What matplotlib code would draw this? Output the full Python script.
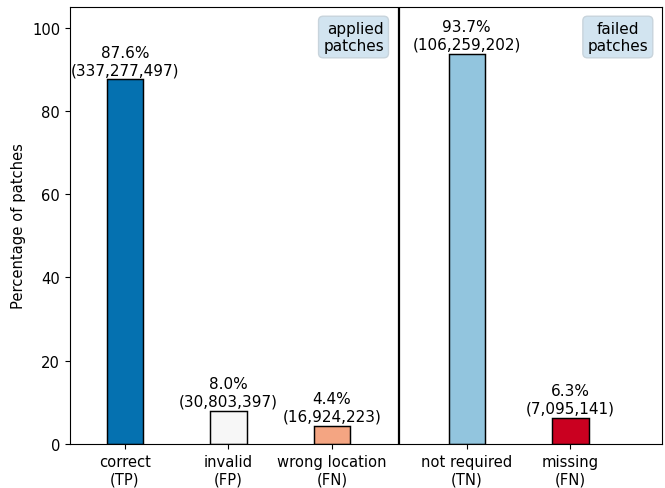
import matplotlib.pyplot as plt

categories = ['correct\n(TP)', 'invalid\n(FP)', 'wrong location\n(FN)',
              'not required\n(TN)', 'missing\n(FN)']
percentages = [87.6, 8.0, 4.4, 93.7, 6.3]
counts = [337277497, 30803397, 16924223, 106259202, 7095141]
colors = ['#0571b0', '#f7f7f7', '#f4a582', '#92c5de', '#ca0020']
positions = [0, 1, 2, 3.3, 4.3]


def main():
    plt.rcParams['font.size'] = 10.6
    fig = plt.figure(figsize=(6.65, 4.89), dpi=100)
    ax = fig.add_axes([0.105, 0.09, 0.89, 0.894])

    bars = ax.bar(positions, percentages, width=0.35, color=colors,
                  edgecolor='black', linewidth=1.05)
    for bar, pct, cnt in zip(bars, percentages, counts):
        ax.annotate(f'{pct:.1f}%\n({cnt:,})',
                    (bar.get_x() + bar.get_width() / 2, bar.get_height()),
                    xytext=(0, 1.5), textcoords='offset points',
                    ha='center', va='bottom', fontsize=11)

    ax.axvline(2.65, color='black', linewidth=1.6)

    box = dict(boxstyle='round', facecolor='#d2e4f0', edgecolor='#c8d4dc')
    ax.text(2.5, 0.968, 'applied\npatches', transform=ax.get_xaxis_transform(),
            ha='right', va='top', multialignment='right', bbox=box, fontsize=11)
    ax.text(5.05, 0.968, 'failed\npatches', transform=ax.get_xaxis_transform(),
            ha='right', va='top', multialignment='center', bbox=box, fontsize=11)

    ax.set_xticks(positions)
    ax.set_xticklabels(categories)
    ax.set_xlim(-0.53, 5.18)
    ax.set_ylim(0, 105)
    ax.set_ylabel('Percentage of patches')

    plt.savefig('out.png')


if __name__ == "__main__":
    main()
